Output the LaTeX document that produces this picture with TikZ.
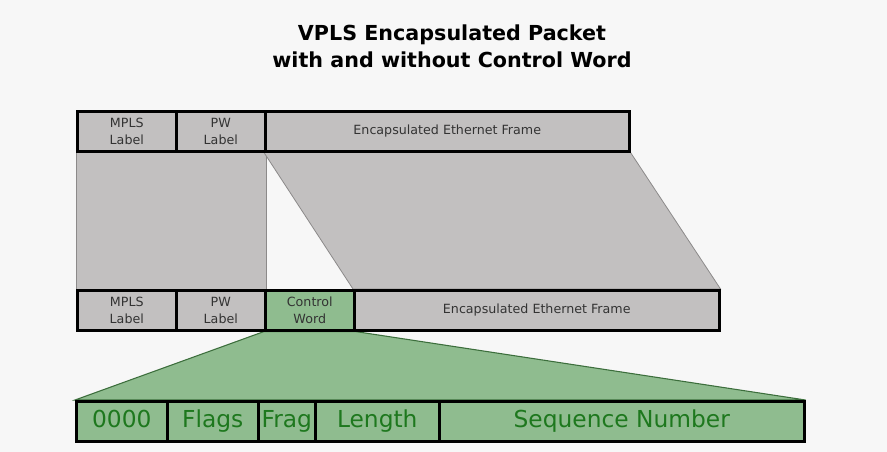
\documentclass[tikz,border=0pt]{standalone}
\usepackage{fontspec}
\setmainfont{DejaVu Sans}
\usepackage{tikz}

\definecolor{pktgray}{RGB}{194,192,192}
\definecolor{pktedge}{RGB}{140,138,138}
\definecolor{cwgreen}{RGB}{143,188,143}
\definecolor{cwedge}{RGB}{60,110,60}
\definecolor{cwtext}{RGB}{30,120,30}
\definecolor{pagebg}{RGB}{247,247,247}

\pgfdeclarelayer{background}
\pgfsetlayers{background,main}

\tikzset{
  fw/.style={minimum width=#1*0.75pt},
  field/.style={draw=black, line width=1.9pt, fill=pktgray, anchor=north west,
    minimum height=30pt, inner sep=0pt, align=center, text=black!80,
    font=\fontsize{9.5}{12.5}\selectfont},
  cwfield/.style={field, fill=cwgreen, text=cwtext, text height=13pt, text depth=4pt,
    font=\fontsize{17.5}{19}\selectfont}
}

\begin{document}
\begin{tikzpicture}[x=0.75pt,y=0.75pt,yscale=-1]
\useasboundingbox (0,0) rectangle (887,452);

% Title
\node[align=center, font=\fontsize{15.5}{20}\selectfont\bfseries] (title) at (452,46)
  {VPLS Encapsulated Packet\\with and without Control Word};

% Packet without control word
\node[field, fw=99]  (mplsA) at (76,110)  {MPLS\\Label};
\node[field, fw=89]  (pwA)   at (175,110) {PW\\Label};
\node[field, fw=364] (ethA)  at (264,110) {Encapsulated Ethernet Frame};

% Packet with control word
\node[field, fw=99]  (mplsB) at (76,289)  {MPLS\\Label};
\node[field, fw=89]  (pwB)   at (175,289) {PW\\Label};
\node[field, fill=cwgreen, fw=89] (cwB) at (264,289) {Control\\Word};
\node[field, fw=365] (ethB)  at (353,289) {Encapsulated Ethernet Frame};

% Control word fields
\node[cwfield, fw=91]  (zero)  at (75,400)  {0000};
\node[cwfield, fw=91]  (flags) at (166,400) {Flags};
\node[cwfield, fw=57]  (frag)  at (257,400) {Frag};
\node[cwfield, fw=124] (len)   at (314,400) {Length};
\node[cwfield, fw=365] (seq)   at (438,400) {Sequence Number};

\begin{pgfonlayer}{background}
\fill[pagebg] (0,0) rectangle (887,452);
% Mapping between the two packets
\filldraw[fill=pktgray, draw=pktedge, line width=0.6pt]
  (mplsA.south west) rectangle (pwB.north east);
\filldraw[fill=pktgray, draw=pktedge, line width=0.6pt]
  (ethA.south west) -- (ethA.south east) -- (ethB.north east) -- (ethB.north west) -- cycle;
% Control word expansion
\filldraw[fill=cwgreen, draw=cwedge, line width=0.8pt]
  (cwB.south west) -- (cwB.south east) -- (seq.north east) -- (zero.north west) -- cycle;
\end{pgfonlayer}
\end{tikzpicture}
\end{document}
